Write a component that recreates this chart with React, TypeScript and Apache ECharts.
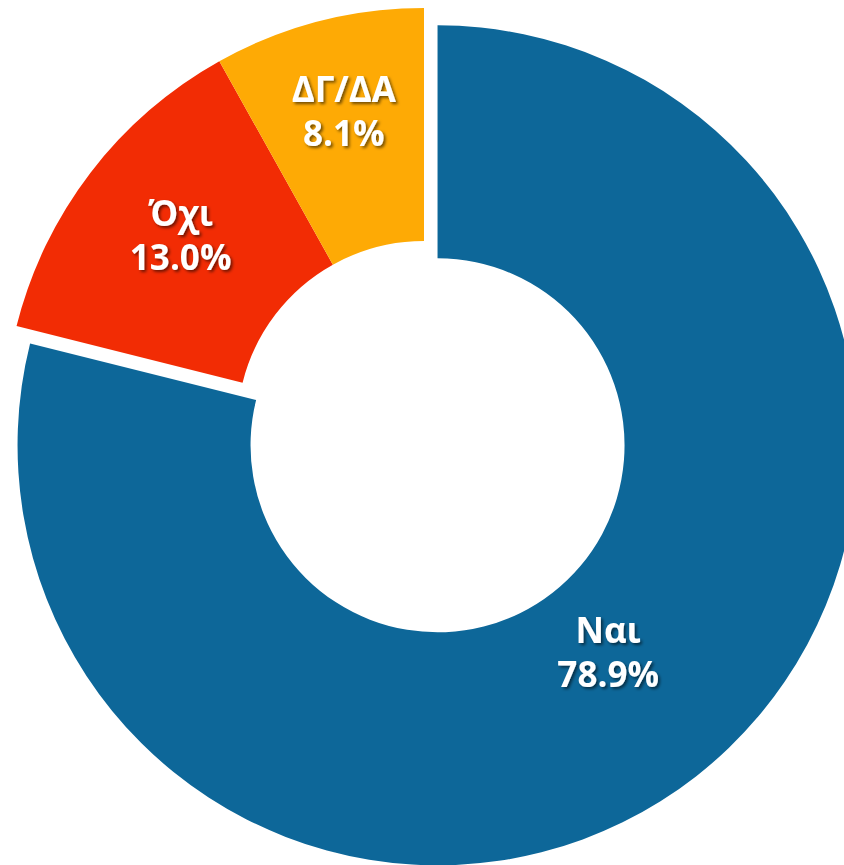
import React, { useEffect, useRef } from "react";
import * as echarts from "echarts";

const categories = ["Ναι", "Όχι", "ΔΓ/ΔΑ"];
const values = [78.9, 13.0, 8.1];
const colors = ["#0D6799", "#F22C04", "#FEAA05"];
const exploded = [true, false, false];

export default function App() {
  const ref = useRef<HTMLDivElement>(null);
  useEffect(() => {
    document.body.style.margin = "0";
    const chart = echarts.init(ref.current!, null, { renderer: "svg" });
    const labelShift: Record<number, [number, number]> = {
      0: [-18, -35],
      1: [0, -7],
      2: [-3, -21],
    };
    chart.setOption({
      animation: false,
      backgroundColor: "#ffffff",
      series: [
        {
          type: "pie",
          center: [424, 428],
          radius: [187, 420],
          startAngle: 90,
          clockwise: true,
          selectedMode: "multiple",
          selectedOffset: 22,
          avoidLabelOverlap: false,
          silent: true,
          label: {
            show: true,
            position: "inside",
            color: "#ffffff",
            fontFamily: "'Open Sans', 'Noto Sans', sans-serif",
            fontWeight: "bold",
            fontSize: 35,
            lineHeight: 44,
            align: "center",
            textShadowColor: "rgba(0,0,0,0.55)",
            textShadowBlur: 3,
            textShadowOffsetX: 2,
            textShadowOffsetY: 2,
            formatter: (p: any) => `${p.name}\n${Number(p.value).toFixed(1)}%`,
          },
          labelLine: { show: false },
          labelLayout: (params: any) => {
            const s = labelShift[params.dataIndex] || [0, 0];
            return { dx: s[0], dy: s[1] };
          },
          data: categories.map((name, i) => ({
            name,
            value: values[i],
            selected: exploded[i],
            itemStyle: { color: colors[i] },
          })),
        },
      ],
    });
    return () => chart.dispose();
  }, []);
  return <div ref={ref} style={{ width: 844, height: 865 }} />;
}
